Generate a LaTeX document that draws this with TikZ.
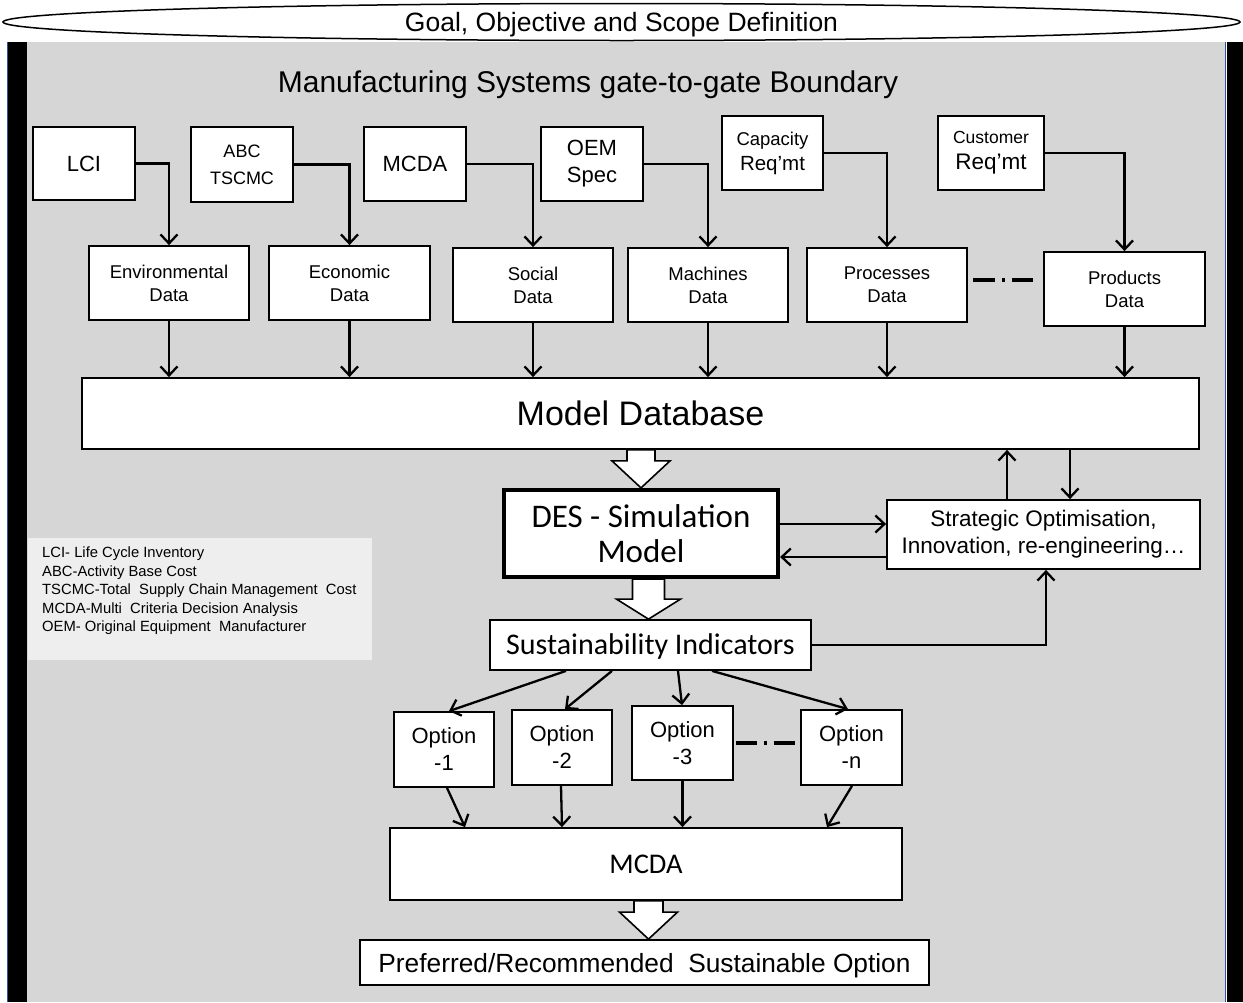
\documentclass[tikz,border=0pt]{standalone}
\usepackage{fontspec}
\setmainfont{Liberation Sans}
\newfontfamily\carl{Carlito}
\usetikzlibrary{arrows.meta,calc,shapes.geometric}
\newcommand\fs[2]{\fontsize{#1}{#2}\selectfont}
\newcommand\myblockarrow[5]{%
  \draw[blk] ($(#1)+(-#3,0)$) -- ($(#2)+(-#3,-#5)$) -- ($(#2)+(-#4,-#5)$) -- (#2)
    -- ($(#2)+(#4,-#5)$) -- ($(#2)+(#3,-#5)$) -- ($(#1)+(#3,0)$) -- cycle;}
\definecolor{bggray}{HTML}{D6D6D6}
\definecolor{legendgray}{HTML}{EEEEEE}
\definecolor{frameblue}{HTML}{2F5597}
\begin{document}
\begin{tikzpicture}[x=1pt,y=-1pt,
  box/.style={draw,fill=white,line width=1.8pt,inner sep=0pt,align=center},
  arr/.style={line width=2.3pt,-{Straight Barb[length=9pt,width=17pt]}},
  blk/.style={fill=white,draw,line width=1.6pt,line join=miter},
  dashdot/.style={line width=3.4pt,dash pattern=on 22pt off 7pt on 3pt off 7pt on 22pt},
  rowtwo/.style={box,minimum width=160,minimum height=74,font=\fs{18.5}{23}},
  opt/.style={box,minimum width=100,minimum height=75,font=\fs{22}{27}},
]
\useasboundingbox (0,0) rectangle (1243,1002);
% frame
\fill[bggray] (27,42) rectangle (1226,1002);
\fill[black] (8,42) rectangle (27,1002);
\fill[black] (1227,42) rectangle (1243,1002);
\draw[frameblue,line width=1.5pt] (7.5,42) -- (7.5,1002);
\draw[frameblue,line width=1.5pt] (1225.5,42) -- (1225.5,1002);

\node[draw,ellipse,fill=white,line width=1.5pt,inner sep=0pt,minimum width=1237,minimum height=37,text height=19pt,text depth=0pt,font=\fs{26.5}{30}] (goal) at (621.5,22) {Goal, Objective and Scope Definition};
\node[font=\fs{30}{34},text height=21.5pt,text depth=0pt] (title) at (588,82) {Manufacturing Systems gate-to-gate Boundary};

% top row
\node[box,minimum width=102,minimum height=73,font=\fs{22}{26}] (lci) at (84,163.5) {LCI};
\node[box,minimum width=102,minimum height=75,font=\fs{18}{27}] (abc) at (242,164.5) {ABC\\TSCMC};
\node[box,minimum width=102,minimum height=74,font=\fs{22}{26}] (mcdaA) at (415,164) {MCDA};
\node[box,minimum width=102,minimum height=74,font=\fs{22}{27}] (oem) at (592,164) {OEM\\Spec};
\node[box,minimum width=101,minimum height=74,font=\fs{18.5}{25}] (cap) at (772.5,153) {Capacity\\{\fs{20.5}{25}Req’mt}};
\node[box,minimum width=106,minimum height=74,font=\fs{17.5}{26}] (cust) at (991,153) {Customer\\{\fs{22.5}{26}Req’mt}};

% second row
\node[rowtwo] (env) at (169,283) {Environmental\\Data};
\node[rowtwo,minimum width=161] (eco) at (349.5,283) {Economic\\Data};
\node[rowtwo] (soc) at (533,285) {Social\\Data};
\node[rowtwo] (mach) at (708,285) {Machines\\Data};
\node[rowtwo] (proc) at (887,285) {Processes\\Data};
\node[rowtwo,minimum width=161] (prod) at (1124.5,289) {Products\\Data};

\node[box,minimum width=1117,minimum height=71,font=\fs{34}{40}] (mdb) at (640.5,413.5) {Model Database};
\node[box,line width=4.2pt,minimum width=274,minimum height=87,font=\carl\fs{33}{35}] (des) at (641,533.5) {DES - Simulation\\Model};
\node[box,minimum width=313,minimum height=69,font=\fs{22.5}{27}] (strat) at (1043.5,534.5) {Strategic Optimisation,\\Innovation, re-engineering…};
\node[box,minimum width=321,minimum height=50,font=\carl\fs{30}{32},text height=19.3pt,text depth=0pt] (sus) at (650.5,645) {Sustainability Indicators};

% legend
\node[fill=legendgray,minimum width=344,minimum height=122,inner sep=0pt] (legend) at (200,599) {};
\node[anchor=north west,align=left,inner sep=0pt,font=\fs{14.8}{18.4}] (legtext) at (42,547) {LCI- Life Cycle Inventory\\ABC-Activity Base Cost\\TSCMC-Total~ Supply Chain Management~ Cost\\MCDA-Multi~ Criteria Decision Analysis\\OEM- Original Equipment~ Manufacturer};

% options
\node[opt] (o1) at (444,749.5) {Option\\-1};
\node[opt] (o2) at (562,747.5) {Option\\-2};
\node[opt,minimum width=101,minimum height=74] (o3) at (682.5,743) {Option\\-3};
\node[opt,minimum width=101] (on) at (851.5,747.5) {Option\\-n};
\node[box,minimum width=512,minimum height=72,font=\carl\fs{28.5}{32}] (mcdaB) at (646,864) {MCDA};
\node[box,minimum width=569,minimum height=45,font=\fs{26.3}{30},text height=19pt,text depth=0pt] (pref) at (644.5,962.5) {Preferred/Recommended~ Sustainable Option};

% arrows top
\draw[arr] (lci.east) -| (env.north);
\draw[arr] (abc.east) -| (eco.north);
\draw[arr] (mcdaA.east) -| (soc.north);
\draw[arr] (oem.east) -| (mach.north);
\draw[arr] (cap.east) -| (proc.north);
\draw[arr] (cust.east) -| (prod.north);
\foreach \n in {env,eco,soc,mach,proc,prod}
  \draw[arr] (\n.south) -- (\n.south |- mdb.north);
\coordinate (dd1) at ($(proc.east)+(5,-5)$);
\draw[dashdot] (dd1) -- ($(dd1 -| prod.west)+(-10,0)$);

% block arrows
\coordinate (b1tip) at (des.north);
\coordinate (b1top) at (des.north |- mdb.south);
\myblockarrow{b1top}{b1tip}{14}{29}{27}
\coordinate (b2tip) at ($(sus.north)+(-2,0)$);
\coordinate (b2top) at (b2tip |- des.south);
\myblockarrow{b2top}{b2tip}{16}{32}{20}
\coordinate (b3tip) at ($(pref.north)+(4,0)$);
\coordinate (b3top) at (b3tip |- mcdaB.south);
\myblockarrow{b3top}{b3tip}{14.5}{29}{27}

% DES <-> strategic
\coordinate (d1) at ($(des.east)+(0,-9.5)$);
\draw[arr] (d1) -- (d1 -| strat.west);
\coordinate (s1) at ($(strat.west)+(0,22.5)$);
\draw[arr] (s1) -- (s1 -| des.east);
\coordinate (s2) at ($(strat.north)+(-36.5,0)$);
\draw[arr] (s2) -- (s2 |- mdb.south);
\coordinate (m2) at ($(strat.north)+(26.5,0)$);
\draw[arr] (m2 |- mdb.south) -- (m2);
\draw[arr] (sus.east) -| ($(strat.south)+(2.5,0)$);

% sustainability -> options
\draw[arr] ($(sus.south)+(-84.5,0)$) -- ($(o1.north)+(5,0)$);
\draw[arr] ($(sus.south)+(-38.5,0)$) -- ($(o2.north)+(3,0)$);
\draw[arr] ($(sus.south)+(27.5,0)$) -- ($(o3.north)+(-0.5,0)$);
\draw[arr] ($(sus.south)+(61.5,0)$) -- ($(on.north)+(-3.5,0)$);
\coordinate (dd2) at ($(o3.east)+(2,0)$);
\draw[dashdot,dash pattern=on 21pt off 7pt on 3pt off 7pt on 21pt] (dd2) -- ($(dd2 -| on.west)+(-5,0)$);

% options -> MCDA
\draw[arr] ($(o1.south)+(3,0)$) -- ($(mcdaB.north)+(-181,0)$);
\draw[arr] ($(o2.south)+(-1,0)$) -- ($(mcdaB.north)+(-84,0)$);
\draw[arr] (o3.south) -- (o3.south |- mcdaB.north);
\draw[arr] ($(on.south)+(0.5,0)$) -- ($(mcdaB.north)+(181,0)$);
\end{tikzpicture}
\end{document}
